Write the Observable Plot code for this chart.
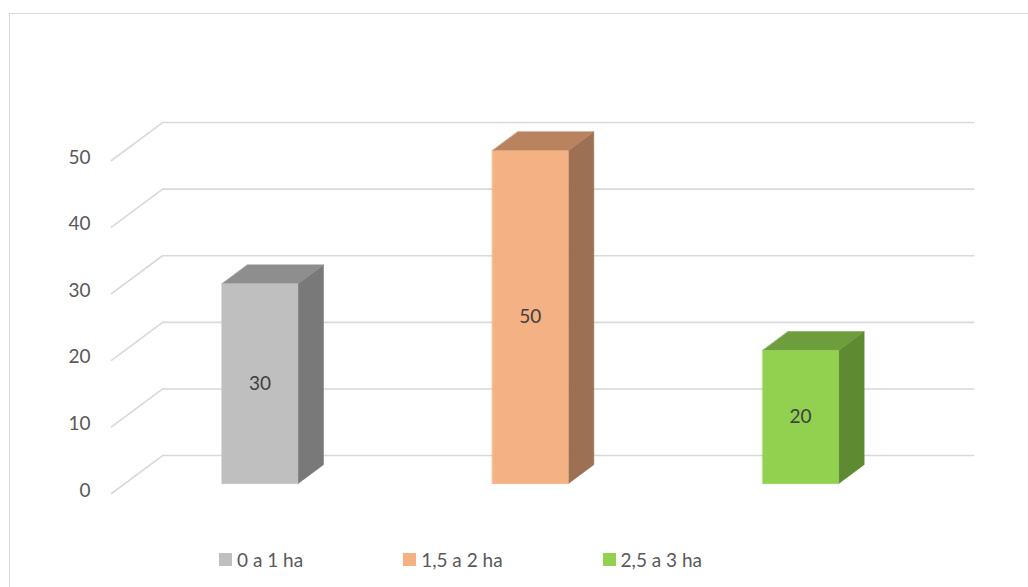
<!DOCTYPE html>
<html>
<head>
<meta charset="utf-8">
<script src="https://cdn.jsdelivr.net/npm/d3@7"></script>
<script src="https://cdn.jsdelivr.net/npm/@observablehq/plot@0.6"></script>
<style>
  html, body { margin: 0; padding: 0; background: #fff; }
  #chart { position: relative; width: 1028px; height: 587px; overflow: hidden; }
  #border { position: absolute; left: 9px; top: 13px; width: 1100px; height: 700px;
            border-left: 1.5px solid #d9d9d9; border-top: 1.5px solid #d9d9d9; }
  #plot { position: absolute; left: 0; top: 0; }
  #legend { position: absolute; left: 219px; top: 543px; }
  .lg-swatch { margin-right: 100px !important; }
  .lg-swatch > svg { margin-right: 5px !important; }
</style>
</head>
<body>
<div id="chart">
  <div id="border"></div>
  <div id="plot"></div>
  <div id="legend"></div>
</div>
<script>
// Farm size classes and their counts
const categories = ["0 a 1 ha", "1,5 a 2 ha", "2,5 a 3 ha"];
const values = [30, 50, 20];
const yTicks = [0, 10, 20, 30, 40, 50];

// Face shading of each 3D column: front, top, right side
const frontColors = ["#bfbfbf", "#f4b183", "#92d050"];
const topColors = ["#8e8e8e", "#b9835f", "#6e9d3d"];
const sideColors = ["#797979", "#9c7052", "#5e8a32"];

// Oblique projection: depth d (0 = front, 1 = back wall) shifts a point
// right and up, expressed in category / value units.
const DEPTH_X = 0.189;
const DEPTH_Y = 5.7;
const project = (c, v, d) => ({x: c + d * DEPTH_X, y: v + d * DEPTH_Y});

const HALF_W = 0.1406;   // half column width, category units
const D0 = 0.26, D1 = 0.76; // column front and back depth

const bars = categories.map((name, i) => ({name, value: values[i], i}));

// Back wall gridlines and the slanted side-wall lines
const backGrid = yTicks.flatMap(v => [
  {...project(0, v, 1), g: v},
  {...project(3, v, 1), g: v}
]);
const sideGrid = yTicks.flatMap(v => [
  {...project(0, v, 0), g: v},
  {...project(0, v, 1), g: v}
]);

// Polygons for the visible faces of every column
const faces = bars.flatMap(b => {
  const c = b.i + 0.5, l = c - HALF_W, r = c + HALF_W, v = b.value;
  const poly = (id, color, pts) => pts.map(p => ({...project(...p), id, color}));
  return [
    ...poly(`side${b.i}`, sideColors[b.i], [[r, 0, D0], [r, 0, D1], [r, v, D1], [r, v, D0]]),
    ...poly(`top${b.i}`, topColors[b.i], [[l, v, D0], [r, v, D0], [r, v, D1], [l, v, D1]]),
    ...poly(`front${b.i}`, frontColors[b.i], [[l, 0, D0], [r, 0, D0], [r, v, D0], [l, v, D0]])
  ];
});

const chart = Plot.plot({
  width: 1028,
  height: 587,
  marginLeft: 111,
  marginRight: 106,
  marginTop: 160,
  marginBottom: 94,
  style: {fontFamily: "Lato, 'Open Sans', sans-serif", background: "transparent"},
  x: {domain: [0, 3], axis: null},
  y: {domain: [0, 50], axis: null},
  color: {type: "identity"},
  marks: [
    Plot.line(backGrid, {x: "x", y: "y", z: "g", stroke: "#d9d9d9", strokeWidth: 1.6}),
    Plot.line(sideGrid, {x: "x", y: "y", z: "g", stroke: "#d9d9d9", strokeWidth: 1.6}),
    Plot.line(faces, {x: "x", y: "y", z: "id", fill: "color", stroke: "color",
                      strokeWidth: 0.5, curve: "linear-closed"}),
    Plot.text(yTicks, {x: () => 0, y: d => d, text: d => String(d), textAnchor: "end",
                       dx: -21, dy: -3, fontSize: 19, fill: "#595959"}),
    Plot.text(bars, {x: d => project(d.i + 0.5, d.value / 2, D0).x,
                     y: d => project(d.i + 0.5, d.value / 2, D0).y,
                     text: d => String(d.value), fontSize: 19, fill: "#404040"})
  ]
});
document.getElementById("plot").append(chart);

const legend = Plot.legend({
  color: {type: "ordinal", domain: categories, range: frontColors},
  legend: "swatches",
  swatchWidth: 13,
  swatchHeight: 13,
  className: "lg",
  style: {fontFamily: "Lato, 'Open Sans', sans-serif", fontSize: "19px", color: "#595959"}
});
document.getElementById("legend").append(legend);
</script>
</body>
</html>
